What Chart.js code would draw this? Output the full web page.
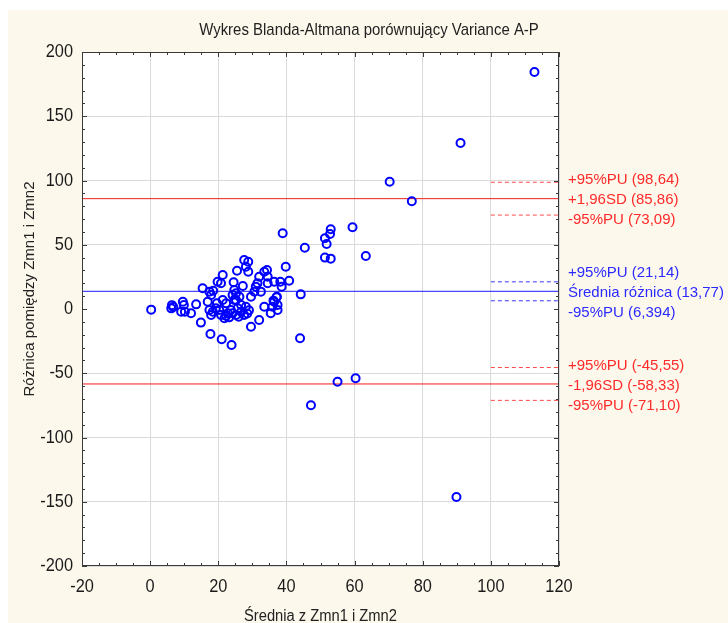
<!DOCTYPE html>
<html lang="pl">
<head>
<meta charset="utf-8">
<title>Wykres Blanda-Altmana</title>
<script src="https://cdn.jsdelivr.net/npm/chart.js@4.4.1/dist/chart.umd.min.js"></script>
<style>
  html, body { margin: 0; padding: 0; background: #ffffff; }
  #wrap { width: 728px; height: 623px; }
</style>
</head>
<body>
<div id="wrap"><canvas id="baChart" width="728" height="623"></canvas></div>
<script>
// średnia z Zmn1 i Zmn2 (oś X)
const meanValues = [
    0.3, 6.4, 6.2, 6.8, 9.6, 9.9, 9.1, 10.2, 12.0, 13.5,
    14.9, 15.4, 17.4, 17.9, 18.5, 16.9, 17.4, 17.9, 17.7, 21.0,
    23.9, 19.8, 20.8, 21.3, 24.5, 25.2, 24.7, 26.2, 27.2, 25.5,
    27.6, 28.8, 28.1, 28.8, 29.6, 30.6, 31.0, 31.5, 32.0, 32.5,
    33.5, 34.3, 34.5, 34.5, 36.4, 38.2, 38.6, 39.8, 40.8, 37.2,
    36.4, 37.4, 35.9, 37.4, 33.5, 35.4, 32.0, 29.6, 26.7, 26.7,
    25.7, 28.1, 27.6, 25.2, 24.2, 23.7, 22.8, 21.8, 20.8, 20.3,
    19.3, 18.4, 19.6, 24.2, 24.7, 25.2, 21.3, 22.3, 22.3, 23.2,
    26.0, 28.5, 29.0, 36.2, 37.1, 44.2, 44.0, 45.4, 38.9, 47.2,
    51.3, 51.8, 51.3, 52.8, 53.0, 53.0, 55.0, 59.4, 60.3, 63.3,
    70.3, 76.8, 89.9, 91.1, 112.8
];
// różnica pomiędzy Zmn1 i Zmn2 (oś Y)
const diffValues = [
    -0.5, 3.0, 0.5, 1.5, 5.7, 3.1, -2.1, -2.1, -3.3, 3.6,
    -10.6, 16.1, 13.5, 10.9, 14.2, 5.7, -0.8, -4.7, -19.5, -23.6,
    -28.0, 21.2, 20.0, 26.5, 20.8, 12.2, 7.0, 9.6, 17.9, 29.8,
    38.1, 36.8, 32.9, 29.0, 9.6, 13.5, 17.4, 20.0, 25.1, 13.5,
    29.0, 30.4, 25.1, 20.0, 21.2, 21.2, 17.4, 32.9, 22.0, 9.6,
    5.7, 3.1, 1.8, -0.8, 1.8, -3.3, -8.6, -13.8, 3.1, -2.1,
    0.5, 1.8, -4.7, -4.7, -3.3, -0.8, -3.3, -7.2, -4.7, -0.8,
    0.5, -2.1, 4.4, 10.9, 14.8, 7.0, 7.0, 4.4, -5.5, -6.5,
    -6.0, -3.5, -1.0, 6.5, 9.1, 11.4, -22.8, 47.7, 58.9, -74.9,
    55.0, 50.6, 40.0, 58.4, 62.0, 39.2, -56.6, 63.6, -53.9, 41.2,
    99.0, 83.8, -146.3, 129.2, 184.4
];

// granice zgodności, średnia różnica i przedziały ufności
const limitValues = [98.64, 85.86, 73.09, 21.14, 13.77, 6.394, -45.55, -58.33, -71.10];
const limitLabels = [
    '+95%PU (98,64)', '+1,96SD (85,86)', '-95%PU (73,09)',
    '+95%PU (21,14)', 'Średnia różnica (13,77)', '-95%PU (6,394)',
    '+95%PU (-45,55)', '-1,96SD (-58,33)', '-95%PU (-71,10)'
];
const limitKinds = ['ci', 'sd', 'ci', 'ci', 'mean', 'ci', 'ci', 'sd', 'ci'];

const xTicks = [-20, 0, 20, 40, 60, 80, 100, 120];
const yTicks = [-200, -150, -100, -50, 0, 50, 100, 150, 200];

const RED = '#f21c1c';
const BLUE = '#1a1aff';
const CREAM = '#fdf8ec';
const SANS = '"Liberation Sans", Arial, sans-serif';

const xMin = xTicks[0], xMax = xTicks[xTicks.length - 1];
const yMin = yTicks[0], yMax = yTicks[yTicks.length - 1];

function limitDataset(i) {
    const kind = limitKinds[i];
    const isBlue = i >= 3 && i <= 5;
    const from = kind === 'ci' ? 100 : xMin;
    return {
        type: 'line',
        data: [{ x: from, y: limitValues[i] }, { x: xMax, y: limitValues[i] }],
        borderColor: kind === 'ci' ? (isBlue ? '#3a3aff' : '#ff4a4a') : (isBlue ? BLUE : RED),
        borderWidth: 1,
        borderDash: kind === 'ci' ? [4, 3] : [],
        pointRadius: 0,
        order: 2
    };
}

const points = meanValues.map((x, i) => ({ x: x, y: diffValues[i] }));

// tekst zwężony w poziomie (krój typu "narrow")
function narrowText(ctx, text, x, y, size, squeeze, align) {
    ctx.save();
    ctx.font = size + 'px ' + SANS;
    ctx.textAlign = align;
    ctx.translate(x, y);
    ctx.scale(squeeze, 1);
    ctx.fillText(text, 0, 0);
    ctx.restore();
}

// tło, ramka, podziałki i opisy
const decorPlugin = {
    id: 'decor',
    beforeDraw(chart) {
        const { ctx, chartArea: a } = chart;
        ctx.save();
        ctx.fillStyle = '#ffffff';
        ctx.fillRect(0, 0, chart.width, chart.height);
        ctx.fillStyle = CREAM;
        ctx.fillRect(8, 10, chart.width - 8, chart.height - 10);
        ctx.fillStyle = '#ffffff';
        ctx.fillRect(a.left, a.top, a.right - a.left, a.bottom - a.top);
        ctx.restore();
    },
    afterDraw(chart) {
        const { ctx, chartArea: a, scales } = chart;
        const xs = scales.x, ys = scales.y;
        ctx.save();
        ctx.strokeStyle = '#3a3a3a';
        ctx.lineWidth = 1;
        ctx.strokeRect(a.left + 0.5, a.top + 0.5, a.right - a.left - 1, a.bottom - a.top - 1);

        // podziałki wewnątrz ramki
        ctx.beginPath();
        for (let v = xMin; v <= xMax; v += 5) {
            const px = Math.round(xs.getPixelForValue(v)) + 0.5;
            const len = v % 20 === 0 ? 5 : 3;
            ctx.moveTo(px, a.bottom); ctx.lineTo(px, a.bottom - len);
            ctx.moveTo(px, a.top); ctx.lineTo(px, a.top + len);
        }
        for (let v = yMin; v <= yMax; v += 10) {
            const py = Math.round(ys.getPixelForValue(v)) + 0.5;
            const len = v % 50 === 0 ? 5 : 3;
            ctx.moveTo(a.left, py); ctx.lineTo(a.left + len, py);
            ctx.moveTo(a.right, py); ctx.lineTo(a.right - len, py);
        }
        ctx.stroke();

        // opisy podziałek
        ctx.fillStyle = '#1a1a1a';
        ctx.textBaseline = 'middle';
        xTicks.forEach(v => narrowText(ctx, String(v), xs.getPixelForValue(v), a.bottom + 21, 19, 0.86, 'center'));
        yTicks.forEach(v => narrowText(ctx, String(v), a.left - 9, ys.getPixelForValue(v), 19, 0.86, 'right'));

        // tytuł i opisy osi
        ctx.fillStyle = '#222222';
        narrowText(ctx, 'Wykres Blanda-Altmana porównujący Variance A-P', 369, 30, 17, 0.88, 'center');
        narrowText(ctx, 'Średnia z Zmn1 i Zmn2', (a.left + a.right) / 2, 617, 16, 0.92, 'center');
        ctx.save();
        ctx.translate(30, 289);
        ctx.rotate(-Math.PI / 2);
        ctx.font = '15px ' + SANS;
        ctx.textAlign = 'center';
        ctx.fillText('Różnica pomiędzy Zmn1 i Zmn2', 0, 0);
        ctx.restore();

        // etykiety linii po prawej stronie
        ctx.textAlign = 'left';
        ctx.font = '15px ' + SANS;
        for (let g = 0; g < 3; g++) {
            const mid = ys.getPixelForValue(limitValues[g * 3 + 1]) + 1.5;
            for (let k = 0; k < 3; k++) {
                ctx.fillStyle = g === 1 ? '#2b2bff' : '#ff2a2a';
                ctx.fillText(limitLabels[g * 3 + k], 568, mid + (k - 1) * 20);
            }
        }
        ctx.restore();
    }
};

const datasets = [{
    type: 'scatter',
    data: points,
    pointStyle: 'circle',
    pointRadius: 4,
    pointBorderWidth: 2,
    pointBorderColor: '#0000ff',
    pointBackgroundColor: 'rgba(0,0,0,0)',
    order: 1
}];
limitValues.forEach((_, i) => datasets.push(limitDataset(i)));

new Chart(document.getElementById('baChart'), {
    type: 'scatter',
    data: { datasets: datasets },
    options: {
        responsive: false,
        animation: false,
        layout: { padding: { top: 52, right: 169, left: 0, bottom: 0 } },
        plugins: { legend: { display: false }, tooltip: { enabled: false } },
        scales: {
            x: {
                type: 'linear', min: xMin, max: xMax,
                afterBuildTicks: (s) => { s.ticks = xTicks.map(v => ({ value: v })); },
                afterFit: (s) => { s.height = 57; },
                ticks: { display: false },
                grid: { color: '#dadada', drawTicks: false },
                border: { display: false }
            },
            y: {
                type: 'linear', min: yMin, max: yMax,
                afterBuildTicks: (s) => { s.ticks = yTicks.map(v => ({ value: v })); },
                afterFit: (s) => { s.width = 82; },
                ticks: { display: false },
                grid: {
                    color: (c) => (c.tick && c.tick.value === 0 ? 'rgba(0,0,0,0)' : '#dadada'),
                    drawTicks: false
                },
                border: { display: false }
            }
        }
    },
    plugins: [decorPlugin]
});
</script>
</body>
</html>
